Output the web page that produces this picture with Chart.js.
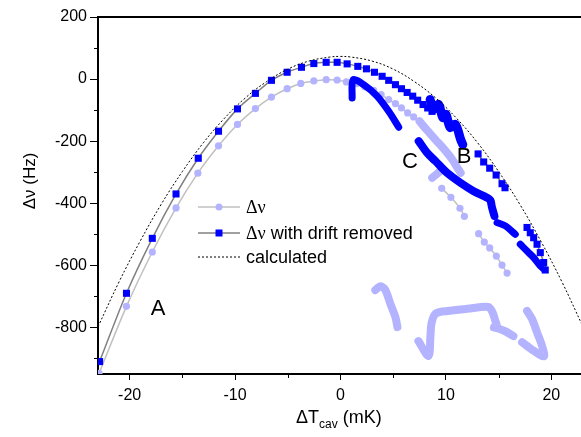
<!DOCTYPE html>
<html>
<head>
<meta charset="utf-8">
<script src="https://cdn.jsdelivr.net/npm/chart.js@4.4.0/dist/chart.umd.min.js"></script>
<style>
  html, body { margin: 0; padding: 0; overflow: hidden; background: #fff; }
  #wrap { width: 581px; height: 437px; overflow: hidden; }
</style>
</head>
<body>
<div id="wrap"><canvas id="chart" width="590" height="437"></canvas></div>
<script>
// ticks
const xTicks = [-20, -10, 0, 10, 20];
const xMinor = [-15, -5, 5, 15];
const yTicks = [200, 0, -200, -400, -600, -800];
const yMinor = [100, -100, -300, -500, -700, -900];

// Δν (light circles)
const dnX = [-22.9, -20.3, -17.85, -15.6, -13.53, -11.57, -9.77, -8.07, -6.55, -5.06, -3.77, -2.53, -1.36, -0.32, 0.56, 1.5, 2.3, 3.15, 3.85, 4.57, 5.21, 5.78, 6.37, 6.94, 7.51];
const dnY = [-948, -732, -557, -415, -303, -215, -146, -95, -58, -31, -14, -6, -2, -3, -9, -15, -25, -36, -50, -66, -79, -93, -109, -122, -136];
const dn2X = [9.6, 10.47, 11.33, 11.75];
const dn2Y = [-352, -381, -416, -442];
const dn3X = [13.1, 13.64, 14.15, 14.78, 15.32, 15.8];
const dn3Y = [-498, -525, -544, -570, -599, -625];
// Δν dense runs
const dnBandX = [7.5, 8.14, 9.0, 9.8, 10.6, 11.18, 11.4];
const dnBandY = [-136, -162, -195, -225, -259, -291, -302];
const dnStubX = [9.4, 8.7];
const dnStubY = [-298, -318];
const dnBotAX = [3.3, 3.79, 4.26, 4.74, 5.21, 5.4];
const dnBotAY = [-680, -667, -680, -725, -767, -799];
const dnBotBX = [7.39, 8.34, 8.53, 8.62, 9.0, 10.14, 12.03, 14.02, 14.4, 14.69, 14.8];
const dnBotBY = [-844, -892, -828, -789, -756, -747, -740, -734, -750, -779, -790];
const dnBotCX = [14.55, 15.1, 15.6, 16.4];
const dnBotCY = [-800, -805, -812, -828];
const dnBotDX = [17.22, 18.32, 19.3, 19.11, 18.64, 18.17, 17.69];
const dnBotDY = [-848, -875, -893, -859, -816, -773, -747];

// Δν with drift removed (blue squares)
const drX = [-22.85, -20.3, -17.85, -15.6, -13.49, -11.57, -9.77, -8.07, -6.55, -5.06, -3.7, -2.53, -1.36, -0.32, 0.63, 1.64, 2.46, 3.22, 3.95, 4.57, 5.21, 5.78, 6.32, 6.85, 7.32, 7.83, 8.27, 8.68];
const drY = [-910, -690, -513, -370, -255, -168, -96, -46, -4, 22, 38, 50, 54, 54, 49, 41, 33, 22, 9, -4, -18, -31, -43, -55, -68, -82, -93, -104];
const dr2X = [13.05, 13.58, 14.15, 14.76, 15.32, 15.6];
const dr2Y = [-241, -267, -287, -309, -337, -350];
const dr3X = [17.69, 18.0, 18.32, 18.64, 18.95, 19.27, 19.42];
const dr3Y = [-478, -495, -511, -532, -559, -591, -615];
// drift removed dense runs
const drClusterX = [8.5, 8.8, 9.3, 9.7, 10.0, 10.4, 10.9, 11.4, 11.6];
const drClusterY = [-66, -98, -82, -124, -114, -156, -146, -195, -211];
const drStreak1X = [1.1, 1.2, 2.2, 3.47, 4.57, 5.52];
const drStreak1Y = [-61, -2, -18, -55, -104, -155];
const drStreak2X = [7.42, 8.2, 9.0, 10.1, 11.37, 12.63, 13.9, 14.21, 14.37, 14.6];
const drStreak2Y = [-200, -237, -264, -302, -334, -361, -382, -390, -414, -441];
const drStreak3X = [14.85, 15.64, 16.58];
const drStreak3Y = [-462, -473, -500];
const drStreak4X = [17.05, 17.69, 18.32, 18.95, 19.3];
const drStreak4Y = [-532, -554, -575, -602, -612];

// calculated
const calcX = [-23, -21, -19, -17, -15, -13, -11, -9, -7, -5, -3, -1, 0, 1, 3, 5, 7, 9, 11, 13, 15, 17, 19, 21, 23];
const calcY = [-798, -653, -522, -403, -298, -205, -126, -60, -8, 32, 58, 71, 73, 71, 58, 32, -8, -60, -126, -205, -298, -403, -522, -653, -798];

const LIGHT = "#b3b3ff";
const BLUE = "#0000ff";
const FONT = "'Liberation Sans', Arial, sans-serif";

const pts = (xs, ys) => xs.map((x, i) => ({ x: x, y: ys[i] }));

const markerSet = (xs, ys, color, lineColor, style, r, order) => ({
  data: pts(xs, ys),
  showLine: true,
  borderColor: lineColor,
  borderWidth: 1.5,
  backgroundColor: color,
  pointBackgroundColor: color,
  pointBorderColor: color,
  pointBorderWidth: 0,
  pointStyle: style,
  pointRadius: r,
  tension: 0.3,
  order: order,
});

const bandSet = (xs, ys, color, w, order) => ({
  data: pts(xs, ys),
  showLine: true,
  borderColor: color,
  borderWidth: w,
  borderCapStyle: "round",
  borderJoinStyle: "round",
  pointRadius: 0,
  tension: 0.3,
  order: order,
});

// extra drawing: minor ticks, top frame, titles, legend, letters
const extras = {
  id: "extras",
  afterDraw(chart) {
    const ctx = chart.ctx;
    const a = chart.chartArea;
    const xs = chart.scales.x, ys = chart.scales.y;
    ctx.save();
    ctx.strokeStyle = "#000";
    ctx.lineWidth = 1;
    for (let v of xMinor) {
      const p = Math.round(xs.getPixelForValue(v)) + 0.5;
      ctx.beginPath(); ctx.moveTo(p, a.bottom); ctx.lineTo(p, a.bottom + 4); ctx.stroke();
    }
    for (let v of yMinor) {
      const p = Math.round(ys.getPixelForValue(v)) + 0.5;
      ctx.beginPath(); ctx.moveTo(a.left - 4, p); ctx.lineTo(a.left, p); ctx.stroke();
    }
    // top frame
    ctx.lineWidth = 2;
    ctx.beginPath(); ctx.moveTo(a.left - 1, a.top); ctx.lineTo(a.right + 2, a.top); ctx.stroke();

    ctx.fillStyle = "#000";
    // x title with subscript
    ctx.textBaseline = "alphabetic";
    ctx.textAlign = "left";
    let tx = 296, ty = 423;
    ctx.font = "18px " + FONT;
    ctx.fillText("\u0394T", tx, ty);
    tx += ctx.measureText("\u0394T").width;
    ctx.font = "12px " + FONT;
    ctx.fillText("cav", tx, ty + 5);
    tx += ctx.measureText("cav").width;
    ctx.font = "18px " + FONT;
    ctx.fillText(" (mK)", tx, ty);

    // y title
    ctx.save();
    ctx.translate(30, 181);
    ctx.rotate(-Math.PI / 2);
    ctx.textAlign = "center";
    ctx.textBaseline = "middle";
    ctx.font = "17px " + FONT;
    ctx.fillText("\u0394\u03bd (Hz)", 0, 0);
    ctx.restore();

    // legend
    const lx0 = 198, lx1 = 240, tx0 = 246;
    const rows = [207, 233, 257];
    ctx.lineWidth = 1.5;
    ctx.strokeStyle = "#c0c0c0";
    ctx.beginPath(); ctx.moveTo(lx0, rows[0]); ctx.lineTo(lx1, rows[0]); ctx.stroke();
    ctx.fillStyle = LIGHT;
    ctx.beginPath(); ctx.arc(219, rows[0], 3.5, 0, Math.PI * 2); ctx.fill();
    ctx.strokeStyle = "#808080";
    ctx.beginPath(); ctx.moveTo(lx0, rows[1]); ctx.lineTo(lx1, rows[1]); ctx.stroke();
    ctx.fillStyle = BLUE;
    ctx.fillRect(215.5, rows[1] - 3.5, 7, 7);
    ctx.strokeStyle = "#000";
    ctx.lineWidth = 1;
    ctx.setLineDash([2, 2]);
    ctx.beginPath(); ctx.moveTo(lx0, rows[2]); ctx.lineTo(lx1, rows[2]); ctx.stroke();
    ctx.setLineDash([]);

    ctx.fillStyle = "#000";
    ctx.textAlign = "left";
    ctx.textBaseline = "middle";
    ctx.font = "18px 'Liberation Serif', serif";
    ctx.fillText("\u0394\u03bd", tx0, rows[0] + 1);
    ctx.fillText("\u0394\u03bd", tx0, rows[1] + 1);
    const w = ctx.measureText("\u0394\u03bd").width;
    ctx.font = "18px " + FONT;
    ctx.fillText(" with drift removed", tx0 + w, rows[1] + 1);
    ctx.fillText("calculated", tx0, rows[2] + 1);

    // letters
    ctx.textAlign = "center";
    ctx.font = "22px " + FONT;
    ctx.fillText("A", 158, 309);
    ctx.fillText("B", 464, 157);
    ctx.fillText("C", 410, 162);
    ctx.restore();
  },
};

new Chart(document.getElementById("chart"), {
  type: "scatter",
  data: {
    datasets: [
      // calculated
      {
        data: pts(calcX, calcY),
        showLine: true,
        borderColor: "#000",
        borderWidth: 1,
        borderDash: [2, 2],
        pointRadius: 0,
        tension: 0.4,
        order: 0,
      },
      markerSet(drX, drY, BLUE, "#808080", "rect", 5, 1),
      markerSet(dr2X, dr2Y, BLUE, "#808080", "rect", 5, 1),
      markerSet(dr3X, dr3Y, BLUE, "#808080", "rect", 5, 1),
      bandSet(drClusterX, drClusterY, BLUE, 9, 1),
      bandSet(drStreak1X, drStreak1Y, BLUE, 7, 1),
      bandSet(drStreak2X, drStreak2Y, BLUE, 8, 1),
      bandSet(drStreak3X, drStreak3Y, BLUE, 7, 1),
      bandSet(drStreak4X, drStreak4Y, BLUE, 7, 1),
      markerSet(dnX, dnY, LIGHT, "#c0c0c0", "circle", 3.6, 2),
      markerSet(dn2X, dn2Y, LIGHT, "#c0c0c0", "circle", 3.6, 2),
      markerSet(dn3X, dn3Y, LIGHT, "#c0c0c0", "circle", 3.6, 2),
      bandSet(dnBandX, dnBandY, LIGHT, 8, 2),
      bandSet(dnStubX, dnStubY, LIGHT, 8, 2),
      bandSet(dnBotAX, dnBotAY, LIGHT, 8, 2),
      bandSet(dnBotBX, dnBotBY, LIGHT, 8, 2),
      bandSet(dnBotCX, dnBotCY, LIGHT, 8, 2),
      bandSet(dnBotDX, dnBotDY, LIGHT, 8, 2),
    ],
  },
  options: {
    responsive: false,
    animation: false,
    devicePixelRatio: 1,
    layout: { padding: { top: 17, right: 7, left: 0, bottom: 0 } },
    plugins: { legend: { display: false }, tooltip: { enabled: false } },
    scales: {
      x: {
        type: "linear",
        min: -23,
        max: 23,
        afterBuildTicks: (s) => { s.ticks = xTicks.map((v) => ({ value: v })); },
        afterFit: (s) => { s.height = 63; },
        grid: { display: true, drawOnChartArea: false, drawTicks: true, tickLength: 6, tickColor: "#000", tickWidth: 1 },
        border: { display: true, color: "#000", width: 2 },
        ticks: { color: "#000", font: { family: FONT, size: 16 }, padding: 6, maxRotation: 0 },
      },
      y: {
        type: "linear",
        min: -950,
        max: 200,
        afterBuildTicks: (s) => { s.ticks = yTicks.map((v) => ({ value: v })); },
        afterFit: (s) => { s.width = 98; },
        grid: { display: true, drawOnChartArea: false, drawTicks: true, tickLength: 8, tickColor: "#000", tickWidth: 1 },
        border: { display: true, color: "#000", width: 2 },
        ticks: { color: "#000", font: { family: FONT, size: 16 }, padding: 3 },
      },
    },
  },
  plugins: [extras],
});
</script>
</body>
</html>
